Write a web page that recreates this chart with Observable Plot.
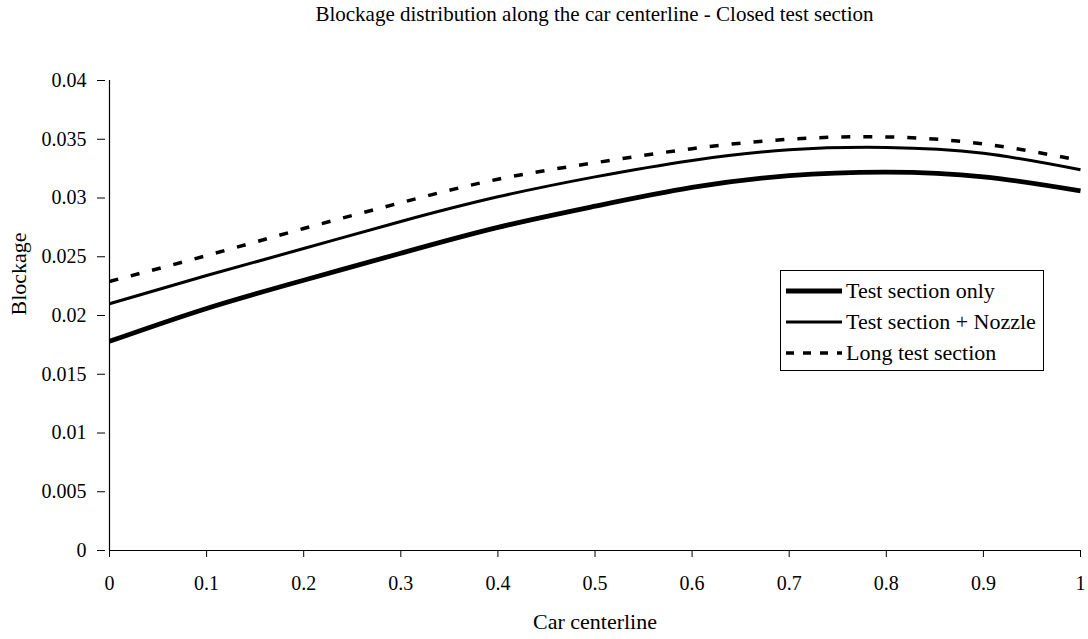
<!DOCTYPE html>
<html>
<head>
<meta charset="utf-8">
<script src="https://cdn.jsdelivr.net/npm/d3@7"></script>
<script src="https://cdn.jsdelivr.net/npm/@observablehq/plot@0.6"></script>
<style>
  body { margin: 0; background: #fff; font-family: "Liberation Serif", "DejaVu Serif", serif; }
  #wrap { position: relative; width: 1088px; height: 639px; }
  #title { position: absolute; left: 109px; width: 971px; top: 2px; text-align: center; font-size: 21px; color: #000; }
  #chart { position: absolute; left: 0; top: 30px; }
  #legend { position: absolute; left: 780px; top: 270px; width: 264px; height: 101px; border: 1.5px solid #000; background: #fff; box-sizing: border-box; font-size: 22px; }
  .row { position: absolute; left: 3px; height: 26px; display: flex; align-items: center; }
  .row svg { margin-right: 2px; }
</style>
</head>
<body>
<div id="wrap">
  <div id="title">Blockage distribution along the car centerline - Closed test section</div>
  <div id="chart"></div>
  <div id="legend"></div>
</div>
<script>
const xs = [0, 0.1, 0.2, 0.3, 0.4, 0.5, 0.6, 0.7, 0.8, 0.9, 1.0];
const testSectionOnly   = [0.0178, 0.0206, 0.0230, 0.0253, 0.0275, 0.0293, 0.0309, 0.0319, 0.0322, 0.0318, 0.0306];
const testSectionNozzle = [0.0210, 0.0234, 0.0257, 0.0280, 0.0301, 0.0318, 0.0332, 0.0341, 0.0343, 0.0338, 0.0324];
const longTestSection   = [0.0229, 0.0251, 0.0274, 0.0296, 0.0316, 0.0330, 0.0342, 0.0350, 0.0352, 0.0346, 0.0332];
const seriesNames = ["Test section only", "Test section + Nozzle", "Long test section"];
const yTicks = [0, 0.005, 0.01, 0.015, 0.02, 0.025, 0.03, 0.035, 0.04];
const xTicks = [0, 0.1, 0.2, 0.3, 0.4, 0.5, 0.6, 0.7, 0.8, 0.9, 1];

const styles = {
  "Test section only": {strokeWidth: 4.8, dash: null},
  "Test section + Nozzle": {strokeWidth: 3, dash: null},
  "Long test section": {strokeWidth: 3.5, dash: "9,13"}
};

const seriesValues = [testSectionOnly, testSectionNozzle, longTestSection];
const data = [];
seriesNames.forEach((name, i) => xs.forEach((x, j) => data.push({series: name, x, y: seriesValues[i][j]})));

const fmt = d => String(+d.toFixed(3));

const lineMarks = seriesNames.map(name => Plot.line(data.filter(d => d.series === name), {
  x: "x", y: "y", stroke: "#000", strokeWidth: styles[name].strokeWidth,
  strokeDasharray: styles[name].dash, curve: "natural", strokeLinecap: "butt"
}));

const chart = Plot.plot({
  width: 1088,
  height: 609,
  marginTop: 50,
  marginBottom: 89,
  marginLeft: 109,
  marginRight: 8,
  style: {fontFamily: "Liberation Serif, serif", fontSize: "20px", color: "#000", background: "#fff"},
  x: {domain: [0, 1]},
  y: {domain: [0, 0.04]},
  marks: [
    Plot.axisY({ticks: yTicks, tickFormat: fmt, tickSize: 8, tickPadding: 11, dx: -4, label: null, stroke: "#000", fontSize: 20}),
    Plot.axisX({ticks: xTicks, tickFormat: fmt, tickSize: 7, tickPadding: 18, label: null, stroke: "#000", fontSize: 20}),
    Plot.ruleX([0], {stroke: "#000", strokeWidth: 1.2}),
    Plot.ruleY([0], {stroke: "#000", strokeWidth: 1.2}),
    ...lineMarks,
    Plot.text(["Car centerline"], {frameAnchor: "bottom", dy: 78, fontSize: 22, fill: "#000"}),
    Plot.text(["Blockage"], {frameAnchor: "left", dx: -91, rotate: -90, fontSize: 22, fill: "#000"})
  ]
});
document.getElementById("chart").appendChild(chart);

// Legend
const legend = document.getElementById("legend");
seriesNames.forEach((name, i) => {
  const row = document.createElement("div");
  row.className = "row";
  row.style.top = (7 + i * 31) + "px";
  const st = styles[name];
  row.innerHTML = `<svg width="60" height="20"><line x1="2" x2="58" y1="10" y2="10" stroke="#000" stroke-width="${st.strokeWidth}" ${st.dash ? 'stroke-dasharray="8,9"' : ''}/></svg><span>${name}</span>`;
  legend.appendChild(row);
});
</script>
</body>
</html>
